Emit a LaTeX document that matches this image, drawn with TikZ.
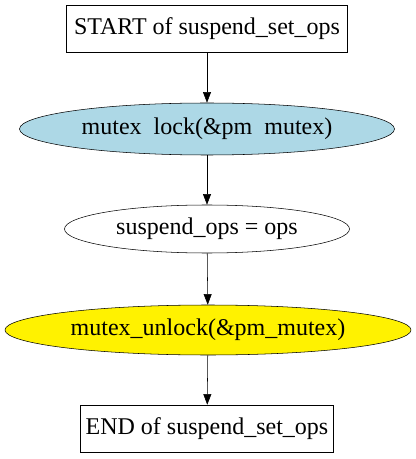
\documentclass[tikz,border=0pt]{standalone}
\usepackage{fontspec}
\setmainfont{Liberation Serif}
\usetikzlibrary{shapes,arrows,arrows.meta,positioning,shapes.geometric}

\begin{document}
\begin{tikzpicture}[x=0.75pt,y=-0.75pt]
\tikzset{base/.style={text=black, align=center, draw=black, font=\fontsize{18pt}{20pt}\selectfont, inner sep=0pt}, }
\tikzset{passo node/.style={base, rectangle, minimum height=35.25pt}, }
\tikzset{chiamata node/.style={base, ellipse}, }
\tikzset{linea/.style={-{Triangle[length=8pt,width=6pt]}, black},}
\useasboundingbox (0,0) rectangle (416,459);
	\node[passo node, minimum width=210.75pt] (inizio) at (207,28.5) {START of suspend\_set\_ops};
	\node[chiamata node, fill={rgb,255:red,173;green,216;blue,230}, minimum width=281.25pt, minimum height=39pt] (lock) at (207,129) {mutex\hspace{0.5em}lock(\&pm\hspace{0.5em}mutex)};
	\node[chiamata node, minimum width=213.75pt, minimum height=36pt] (assegna) at (207,229) {suspend\_ops = ops};
	\node[chiamata node, fill=yellow, minimum width=304.5pt, minimum height=37.5pt] (unlock) at (208,330) {mutex\_unlock(\&pm\_mutex)};
	\node[passo node, minimum width=189.75pt] (fine) at (207,428.5) {END of suspend\_set\_ops};
	\draw[linea] (inizio) -- (lock);
	\draw[linea] (lock) -- (assegna);
	\draw[linea] (assegna) -- (unlock);
	\draw[linea] (unlock) -- (fine);
\end{tikzpicture}
\end{document}
